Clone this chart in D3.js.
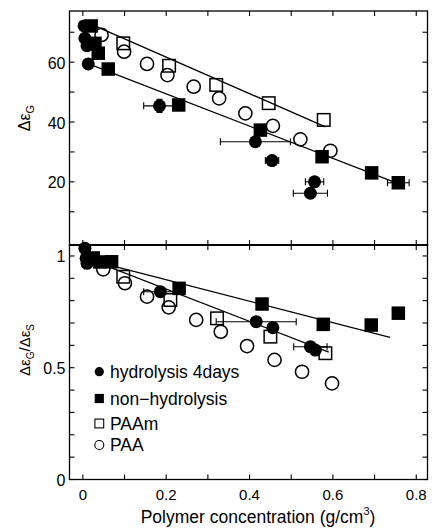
<!DOCTYPE html>
<html>
<head>
<meta charset="utf-8">
<script src="https://cdn.jsdelivr.net/npm/d3@7"></script>
<style>
  html, body { margin: 0; padding: 0; background: #fff; }
  svg { display: block; font-family: "Liberation Sans", Arial, Helvetica, sans-serif; }
</style>
</head>
<body>
<svg id="chart" width="432" height="529"></svg>
<script>
// ---- Δε_G panel (upper) ----
const hydGX    = [0.003, 0.005, 0.010, 0.013, 0.184, 0.414, 0.454, 0.556, 0.546];
const hydG     = [72.1, 68.0, 65.5, 59.4, 45.4, 33.4, 27.1, 20.0, 16.2];
const hydGXErr = [0, 0, 0, 0, 0.038, 0.084, 0.016, 0.022, 0.041];
const hydGYErr = [0, 0, 0, 0, 2.2, 0, 0, 0, 0];

const nonGX    = [0.020, 0.029, 0.037, 0.061, 0.230, 0.426, 0.574, 0.693, 0.757];
const nonG     = [72.1, 66.3, 63.0, 57.7, 45.7, 37.3, 28.4, 23.0, 19.7];
const nonGXErr = [0, 0, 0, 0, 0, 0, 0, 0, 0.026];

const paamGX = [0.097, 0.207, 0.320, 0.446, 0.578];
const paamG  = [66.3, 58.8, 52.4, 46.3, 40.7];

const paaGX = [0.045, 0.099, 0.154, 0.203, 0.266, 0.327, 0.390, 0.456, 0.522, 0.594];
const paaG  = [69.1, 63.5, 59.4, 55.7, 51.8, 47.9, 42.9, 38.7, 34.2, 30.4];

const fitGUpperX = [0.029, 0.582], fitGUpperY = [72.1, 38.4];
const fitGLowerX = [0.011, 0.755], fitGLowerY = [59.6, 19.5];

// ---- Δε_G/Δε_S panel (lower) ----
const hydRX    = [0.005, 0.008, 0.010, 0.017, 0.186, 0.416, 0.456, 0.546, 0.558];
const hydR     = [1.034, 0.990, 0.967, 0.980, 0.840, 0.706, 0.679, 0.594, 0.579];
const hydRXErr = [0, 0, 0, 0, 0.04, 0.096, 0, 0.04, 0];

const nonRX = [0.012, 0.025, 0.041, 0.069, 0.231, 0.430, 0.577, 0.692, 0.757];
const nonR  = [0.985, 0.991, 0.973, 0.974, 0.855, 0.785, 0.694, 0.691, 0.744];

const paamRX = [0.097, 0.210, 0.322, 0.450, 0.582];
const paamR  = [0.907, 0.803, 0.721, 0.639, 0.565];

const paaRX = [0.049, 0.101, 0.154, 0.206, 0.272, 0.331, 0.394, 0.460, 0.526, 0.598];
const paaR  = [0.940, 0.878, 0.818, 0.770, 0.714, 0.661, 0.597, 0.535, 0.482, 0.430];

const fitRUpperX = [0.02, 0.737], fitRUpperY = [0.98, 0.636];
const fitRLowerX = [0.03, 0.59],  fitRLowerY = [0.975, 0.57];

// ---- ticks and labels ----
const xTicks = [0, 0.1, 0.2, 0.3, 0.4, 0.5, 0.6, 0.7, 0.8];
const xTickLabels = ["0", "0.2", "0.4", "0.6", "0.8"];
const gTicks = [10, 20, 30, 40, 50, 60, 70];
const gTickLabels = [20, 40, 60];
const rTicks = [0, 0.1, 0.2, 0.3, 0.4, 0.5, 0.6, 0.7, 0.8, 0.9, 1.0];
const rTickLabels = [0, 0.5, 1];
const legendNames = ["hydrolysis 4days", "non\u2212hydrolysis", "PAAm", "PAA"];

const svg = d3.select("#chart");
const plotLeft = 69.5, plotRight = 427.5, plotTop = 11, plotMid = 245, plotBottom = 479.5;

const x  = d3.scaleLinear().domain([-0.032, 0.827]).range([plotLeft, plotRight]);
const yG = d3.scaleLinear().domain([-1.1, 77.1]).range([plotMid, plotTop]);
const yR = d3.scaleLinear().domain([0, 1.049]).range([plotBottom, plotMid]);

const zip = (xs, ys, extra) => xs.map((v, i) => ({ x: v, y: ys[i], xe: extra ? extra[i] : 0 }));

// frames
function frame(y0, y1) {
  svg.append("rect").attr("x", plotLeft).attr("y", y0).attr("width", plotRight - plotLeft).attr("height", y1 - y0)
    .attr("fill", "none").attr("stroke", "#000").attr("stroke-width", 1.3);
}
frame(plotTop, plotMid);
frame(plotMid, plotBottom);
svg.append("line").attr("x1", plotLeft).attr("x2", plotRight).attr("y1", plotMid).attr("y2", plotMid)
  .attr("stroke", "#000").attr("stroke-width", 2.2);

// x ticks on every horizontal border
const tl = 5;
function xTickRow(yPos, dir) {
  svg.append("g").selectAll("line").data(xTicks).join("line")
    .attr("x1", d => x(d)).attr("x2", d => x(d))
    .attr("y1", yPos).attr("y2", yPos + dir * tl)
    .attr("stroke", "#000").attr("stroke-width", 1.1);
}
xTickRow(plotTop, 1);
xTickRow(plotMid, -1);
xTickRow(plotMid, 1);
xTickRow(plotBottom, -1);

// y ticks, both sides pointing inward
function yTickCol(scale, ticks) {
  [[plotLeft, 1], [plotRight, -1]].forEach(([xp, dir]) => {
    svg.append("g").selectAll("line").data(ticks).join("line")
      .attr("x1", xp).attr("x2", xp + dir * tl)
      .attr("y1", d => scale(d)).attr("y2", d => scale(d))
      .attr("stroke", "#000").attr("stroke-width", 1.1);
  });
}
yTickCol(yG, gTicks);
yTickCol(yR, rTicks);

// tick labels
svg.append("g").selectAll("text").data(gTickLabels).join("text")
  .attr("x", plotLeft - 4).attr("y", d => yG(d) + 6.5)
  .attr("text-anchor", "end").attr("font-size", 16).text(d => d);
svg.append("g").selectAll("text").data(rTickLabels).join("text")
  .attr("x", plotLeft - 4).attr("y", d => yR(d) + 6.5)
  .attr("text-anchor", "end").attr("font-size", 16).text(d => d);
svg.append("g").selectAll("text").data(xTickLabels).join("text")
  .attr("x", d => x(+d)).attr("y", 500)
  .attr("text-anchor", "middle").attr("font-size", 15).text(d => d);

// axis titles
const xt = svg.append("text").attr("x", 258).attr("y", 523).attr("text-anchor", "middle").attr("font-size", 17.5);
xt.append("tspan").text("Polymer concentration (g/cm");
xt.append("tspan").attr("font-size", 11).attr("dy", -8).text("3");
xt.append("tspan").attr("dy", 8).text(")");

const yt1 = svg.append("text").attr("transform", "translate(30,118) rotate(-90)")
  .attr("text-anchor", "middle").attr("font-size", 16);
yt1.append("tspan").text("\u0394\u03b5");
yt1.append("tspan").attr("font-size", 11).attr("dy", 4).text("G");

const yt2 = svg.append("text").attr("transform", "translate(30,350) rotate(-90)")
  .attr("text-anchor", "middle").attr("font-size", 15);
yt2.append("tspan").text("\u0394\u03b5");
yt2.append("tspan").attr("font-size", 10).attr("dy", 4).text("G");
yt2.append("tspan").attr("dy", -4).text("/\u0394\u03b5");
yt2.append("tspan").attr("font-size", 10).attr("dy", 4).text("S");

// fitted lines
const line = (ys) => d3.line().x(d => x(d[0])).y(d => ys(d[1]));
function fit(xs, ys, scale) {
  svg.append("path").datum(xs.map((v, i) => [v, ys[i]]))
    .attr("d", line(scale)).attr("fill", "none").attr("stroke", "#000").attr("stroke-width", 1.3);
}
fit(fitGUpperX, fitGUpperY, yG);
fit(fitGLowerX, fitGLowerY, yG);
fit(fitRUpperX, fitRUpperY, yR);
fit(fitRLowerX, fitRLowerY, yR);

// error bars
function xErrBars(pts, scale) {
  const g = svg.append("g").attr("stroke", "#000").attr("stroke-width", 1.1);
  pts.filter(d => d.xe > 0).forEach(d => {
    const yy = scale(d.y), x0 = x(d.x - d.xe), x1 = x(d.x + d.xe);
    g.append("line").attr("x1", x0).attr("x2", x1).attr("y1", yy).attr("y2", yy);
    g.append("line").attr("x1", x0).attr("x2", x0).attr("y1", yy - 3.5).attr("y2", yy + 3.5);
    g.append("line").attr("x1", x1).attr("x2", x1).attr("y1", yy - 3.5).attr("y2", yy + 3.5);
  });
}
function yErrBars(xs, ys, es, scale) {
  const g = svg.append("g").attr("stroke", "#000").attr("stroke-width", 1.1);
  xs.forEach((v, i) => {
    if (!es[i]) return;
    const xx = x(v), y0 = scale(ys[i] - es[i]), y1 = scale(ys[i] + es[i]);
    g.append("line").attr("x1", xx).attr("x2", xx).attr("y1", y0).attr("y2", y1);
    g.append("line").attr("x1", xx - 3).attr("x2", xx + 3).attr("y1", y0).attr("y2", y0);
    g.append("line").attr("x1", xx - 3).attr("x2", xx + 3).attr("y1", y1).attr("y2", y1);
  });
}

// markers
function circles(pts, scale, r, filled) {
  svg.append("g").selectAll("circle").data(pts).join("circle")
    .attr("cx", d => x(d.x)).attr("cy", d => scale(d.y)).attr("r", r)
    .attr("fill", filled ? "#000" : "none").attr("stroke", "#000").attr("stroke-width", filled ? 0 : 1.5);
}
function squares(pts, scale, s, filled) {
  svg.append("g").selectAll("rect").data(pts).join("rect")
    .attr("x", d => x(d.x) - s / 2).attr("y", d => scale(d.y) - s / 2)
    .attr("width", s).attr("height", s)
    .attr("fill", filled ? "#000" : "none").attr("stroke", "#000").attr("stroke-width", filled ? 0 : 1.5);
}

// upper panel
circles(zip(paaGX, paaG), yG, 6.6, false);
squares(zip(paamGX, paamG), yG, 12.5, false);
const hydGPts = zip(hydGX, hydG, hydGXErr);
const nonGPts = zip(nonGX, nonG, nonGXErr);
xErrBars(hydGPts, yG);
xErrBars(nonGPts, yG);
yErrBars(hydGX, hydG, hydGYErr, yG);
squares(nonGPts, yG, 13.5, true);
circles(hydGPts, yG, 6.5, true);

// lower panel
circles(zip(paaRX, paaR), yR, 6.6, false);
squares(zip(paamRX, paamR), yR, 12.5, false);
const hydRPts = zip(hydRX, hydR, hydRXErr);
xErrBars(hydRPts, yR);
squares(zip(nonRX, nonR), yR, 13.5, true);
circles(hydRPts, yR, 6.5, true);

// legend
const legX = 99.3, legText = 110;
const legY = [371.7, 398.5, 423.5, 445];
const lg = svg.append("g");
lg.append("circle").attr("cx", legX).attr("cy", legY[0]).attr("r", 4.6).attr("fill", "#000");
lg.append("rect").attr("x", legX - 4.6).attr("y", legY[1] - 4.6).attr("width", 9.2).attr("height", 9.2).attr("fill", "#000");
lg.append("rect").attr("x", legX - 4.4).attr("y", legY[2] - 4.4).attr("width", 8.8).attr("height", 8.8)
  .attr("fill", "none").attr("stroke", "#000").attr("stroke-width", 1.1);
lg.append("circle").attr("cx", legX).attr("cy", legY[3]).attr("r", 4.5)
  .attr("fill", "none").attr("stroke", "#000").attr("stroke-width", 1.1);
lg.selectAll("text").data(legendNames).join("text")
  .attr("x", legText).attr("y", (d, i) => legY[i] + 6.3)
  .attr("font-size", 17.5).text(d => d);
</script>
</body>
</html>
